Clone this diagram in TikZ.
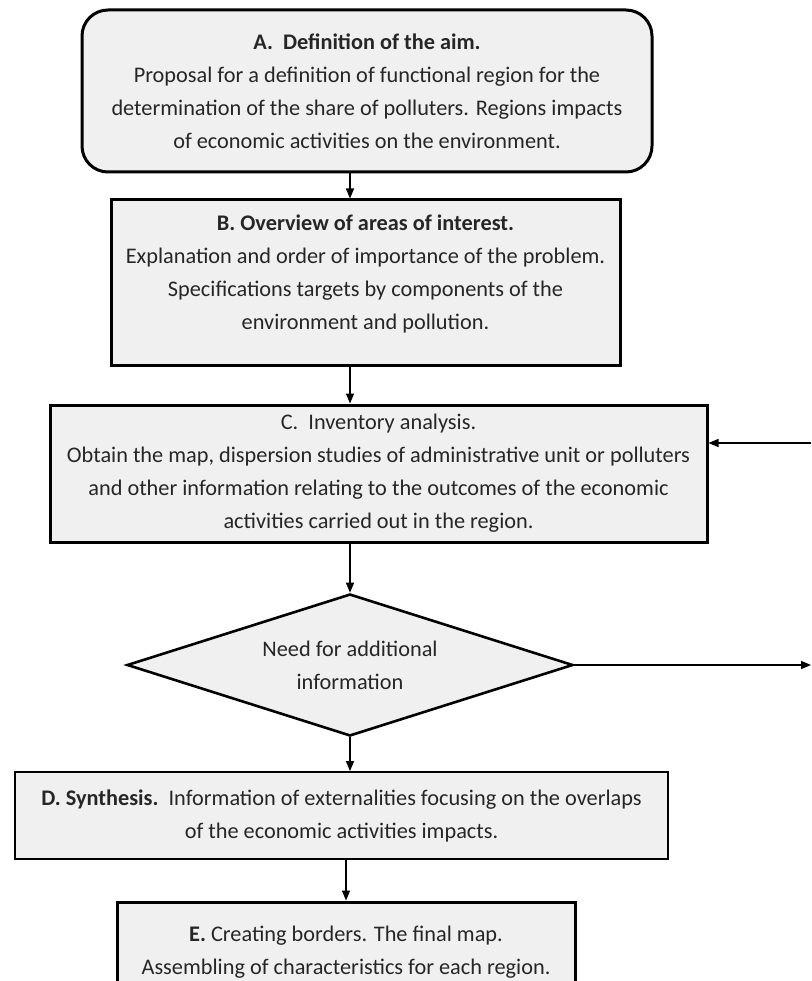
\documentclass[tikz,border=0pt]{standalone}
\usepackage{fontspec}
\setmainfont{Carlito}
\usepackage{tikz}
\usetikzlibrary{positioning,arrows.meta,calc,shapes.geometric}

\begin{document}
\begin{tikzpicture}[
        x=1pt, y=-1pt,
        font=\fontsize{22.3}{33}\selectfont,
        >={Triangle[length=10pt,width=8pt]},
        stage/.style ={draw, line width=3pt, fill=gray!12, text=black!85,
                       align=center, inner sep=0pt},
        aimbox/.style={stage, rounded corners=26pt},
        thinbox/.style={stage, line width=1.8pt},
        ask/.style   ={draw, line width=2.6pt, fill=gray!12, text=black!85,
                       diamond, aspect=3.14, inner sep=0pt, align=center},
        flow/.style  ={->, line width=1.3pt},
    ]
    \useasboundingbox (0,0) rectangle (811,981);
    \clip (0,0) rectangle (811,981);
    \coordinate (spine) at (350,0);

    % ===================== Stages A--C =====================
    \node[aimbox, minimum width=570pt, minimum height=162pt] (def) at (367,91)
        {\textbf{A.\ \ Definition of the aim.}\\
         Proposal for a definition of functional region for the\\
         determination of the share of polluters. Regions impacts\\
         of economic activities on the environment.};
    \node[stage, minimum width=509pt, minimum height=165pt] (ovw) at (365.5,282.5)
        {\textbf{B. Overview of areas of interest.}\\
         Explanation and order of importance of the problem.\\
         Specifications targets by components of the\\
         environment and pollution.\\[-12pt]\mbox{}};
    \node[stage, minimum width=657pt, minimum height=137pt] (inv) at (378.5,473.5)
        {C.\ \ Inventory analysis.\\
         Obtain the map, dispersion studies of administrative unit or polluters\\
         and other information relating to the outcomes of the economic\\
         activities carried out in the region.};

    % ===================== Decision =====================
    \node[ask, minimum width=446pt, minimum height=142pt] (need) at (350,665)
        {Need for additional\\information};

    % ===================== Stages D--E =====================
    \node[thinbox, minimum width=653pt, minimum height=87pt] (syn) at (341.5,815.5)
        {\textbf{D. Synthesis.}\ \ Information of externalities focusing on the overlaps\\
         of the economic activities impacts.};
    \node[stage, minimum width=458pt, minimum height=100pt] (brd) at (346,952)
        {\textbf{E.} Creating borders. The final map.\\
         Assembling of characteristics for each region.};

    % ===================== Connectors =====================
    \draw[flow] (def.south -| spine) -- (ovw.north -| spine);
    \draw[flow] (ovw.south -| spine) -- (inv.north -| spine);
    \draw[flow] (inv.south -| spine) -- (need.north);
    \draw[flow] (need.south) -- (syn.north -| spine);
    \draw[flow] (syn.south -| brd.north) -- (brd.north);

    % loop back / out of frame
    \coordinate (more) at (811,665);
    \coordinate (back) at (811,443);
    \draw[flow] (need.east) -- (more);
    \draw[flow] (back) -- (back -| inv.east);
\end{tikzpicture}
\end{document}
